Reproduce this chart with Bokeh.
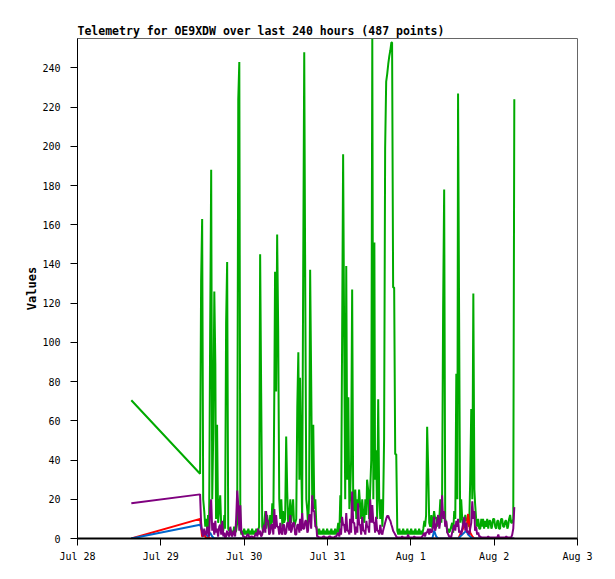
from bokeh.plotting import figure
from bokeh.models import Range1d, FixedTicker
from bokeh.embed import file_html
from bokeh.resources import INLINE

# hours since Jul 28 00:00 (dense sampling, green & purple channels)
TIME_FINE = [15.5,
    35.3, 35.6, 35.9, 36.2, 36.5, 36.8, 37.1, 37.4, 37.6, 37.9,
    38.2, 38.5, 38.8, 39.1, 39.4, 39.7, 39.9, 40.2, 40.5, 40.8,
    41.1, 41.4, 41.7, 42.0, 42.3, 42.5, 42.8, 43.1, 43.4, 43.7,
    44.0, 44.3, 44.6, 44.8, 45.1, 45.4, 45.7, 46.0, 46.3, 46.6,
    46.9, 47.2, 47.4, 47.7, 48.0, 48.3, 48.6, 48.9, 49.2, 49.5,
    49.7, 50.0, 50.3, 50.6, 50.9, 51.2, 51.5, 51.8, 52.0, 52.3,
    52.6, 52.9, 53.2, 53.5, 53.8, 54.1, 54.3, 54.6, 54.9, 55.2,
    55.5, 55.8, 56.1, 56.4, 56.7, 56.9, 57.2, 57.5, 57.8, 58.1,
    58.4, 58.7, 59.0, 59.2, 59.5, 59.8, 60.1, 60.4, 60.7, 61.0,
    61.3, 61.5, 61.8, 62.1, 62.4, 62.7, 63.0, 63.3, 63.6, 63.9,
    64.1, 64.4, 64.7, 65.0, 65.3, 65.6, 65.9, 66.2, 66.4, 66.7,
    67.0, 67.3, 67.6, 67.9, 68.2, 68.5, 68.8, 69.0, 69.3, 69.6,
    69.9, 70.2, 70.5, 70.8, 71.1, 71.3, 71.6, 71.9, 72.2, 72.5,
    72.8, 73.1, 73.4, 73.6, 73.9, 74.2, 74.5, 74.8, 75.1, 75.4,
    75.7, 75.9, 76.2, 76.5, 76.8, 77.1, 77.4, 77.7, 78.0, 78.3,
    78.5, 78.8, 79.1, 79.4, 79.7, 80.0, 80.3, 80.6, 80.8, 81.1,
    81.4, 81.7, 82.0, 82.3, 82.6, 82.9, 83.2, 83.4, 83.7, 84.0,
    84.3, 84.6, 84.9, 85.2, 85.5, 85.7, 86.0, 86.3, 86.6, 86.9,
    87.2, 87.5, 87.8, 88.0, 88.3, 88.6, 88.9, 89.2, 89.5, 89.8,
    90.1, 90.4, 90.6, 90.9, 91.2, 91.5, 91.8, 92.1, 92.4, 92.7,
    92.9, 93.2, 93.5, 93.8, 94.1, 94.4, 94.7, 95.0, 95.2, 95.5,
    95.8, 96.1, 96.4, 96.7, 97.0, 97.3, 97.6, 97.8, 98.1, 98.4,
    98.7, 99.0, 99.3, 99.6, 99.9, 100.1, 100.4, 100.7, 101.0, 101.3,
    101.6, 101.9, 102.2, 102.4, 102.7, 103.0, 103.3, 103.6, 103.9, 104.2,
    104.5, 104.8, 105.0, 105.3, 105.6, 105.9, 106.2, 106.5, 106.8, 107.0,
    107.3, 107.6, 107.9, 108.2, 108.5, 108.8, 109.1, 109.4, 109.6, 109.9,
    110.2, 110.5, 110.8, 111.1, 111.4, 111.7, 112.0, 112.2, 112.5, 112.8,
    113.1, 113.4, 113.7, 114.0, 114.3, 114.5, 114.8, 115.1, 115.4, 115.7,
    116.0, 116.3, 116.6, 116.8, 117.1, 117.4, 117.7, 118.0, 118.3, 118.6,
    118.9, 119.2, 119.4, 119.7, 120.0, 120.3, 120.6, 120.9, 121.2, 121.4,
    121.7, 122.0, 122.3, 122.6, 122.9, 123.2, 123.5, 123.8, 124.0, 124.3,
    124.6, 124.9, 125.2, 125.5, 125.8]

GREEN = [70.5,
    33, 131, 163, 20, 14, 6, 10, 4, 12, 5,
    104, 188, 20, 54, 126, 89, 10, 58, 8, 15,
    22, 6, 8, 4, 12, 5, 110, 141, 5, 4,
    5, 2, 4, 2, 6, 3, 4, 8, 224, 243,
    5, 2, 4, 2, 5, 2, 4, 2, 5, 2,
    4, 2, 5, 2, 4, 2, 5, 2, 4, 6,
    145, 74, 6, 3, 8, 14, 5, 12, 8, 4,
    12, 6, 18, 8, 79, 136, 75, 155, 106, 20,
    10, 20, 6, 14, 8, 10, 52, 24, 6, 12,
    20, 8, 14, 20, 6, 8, 10, 67, 95, 30,
    82, 42, 10, 136, 248, 124, 20, 14, 6, 20,
    137, 81, 20, 58, 15, 20, 6, 4, 2, 5,
    2, 4, 2, 5, 2, 4, 2, 5, 2, 4,
    2, 5, 2, 4, 2, 5, 2, 4, 8, 2,
    22, 8, 99, 196, 102, 20, 139, 30, 72, 15,
    20, 40, 127, 20, 14, 25, 10, 20, 14, 25,
    17, 10, 20, 12, 8, 20, 12, 30, 25, 10,
    25, 40, 255, 20, 151, 30, 45, 10, 71, 20,
    10, 20, 6, 14, 51, 199, 233, 237, 242, 246,
    249, 253, 253, 128, 128, 43, 43, 4, 2, 5,
    2, 4, 2, 5, 2, 4, 2, 5, 2, 4,
    2, 5, 2, 4, 2, 5, 2, 4, 2, 5,
    2, 4, 2, 5, 9, 6, 12, 57, 35, 8,
    6, 12, 5, 9, 14, 10, 11, 6, 12, 10,
    20, 8, 20, 117, 178, 10, 8, 3, 5, 3,
    4, 6, 8, 3, 14, 10, 84, 20, 227, 115,
    8, 20, 10, 6, 8, 12, 9, 10, 9, 6,
    30, 66, 20, 125, 25, 18, 10, 6, 10, 5,
    5, 10, 6, 10, 5, 9, 6, 10, 5, 9,
    9, 5, 6, 10, 10, 6, 5, 9, 9, 5,
    5, 10, 10, 6, 6, 9, 9, 5, 6, 10,
    12, 8, 8, 10, 224]

PURPLE = [18,
    22.5, 8, 3, 1, 5, 2, 2, 6, 4, 1,
    15, 20, 4, 8, 2, 9, 3, 5, 1, 6,
    7, 2, 9, 1, 3, 0.5, 1, 4, 2, 1,
    6, 2, 1, 3, 4, 1, 10, 24.5, 17, 4,
    17, 3, 3, 1, 1, 0.5, 0.5, 2, 2, 0.5,
    0.5, 1, 1, 0.5, 0.5, 2, 3, 1, 5, 2,
    4, 1, 2, 5, 7, 3, 14, 9, 9, 2,
    3, 7, 7, 2, 15, 5, 12, 6, 6, 2,
    8, 3, 2, 7, 7, 2, 3, 8, 8, 4,
    12, 3, 5, 8, 8, 2, 2, 7, 7, 3,
    10, 4, 13, 5, 5, 9, 9, 3, 4, 12,
    12, 5, 22, 14, 14, 6, 6, 1, 1, 0.5,
    0.5, 0.5, 0.5, 1, 1, 0.5, 0.5, 0.5, 0.5, 1,
    1, 0.5, 0.5, 0.5, 0.5, 1, 1, 2, 3, 1,
    5, 2, 11, 7, 7, 3, 13, 4, 4, 2,
    10, 3, 24, 8, 8, 2, 6, 3, 18, 7,
    7, 2, 11, 4, 4, 2, 9, 6, 6, 3,
    20, 8, 17, 8, 8, 3, 11, 4, 4, 2,
    7, 3, 2, 4, 6, 8, 10, 11.5, 11.5, 10,
    9, 7, 6, 4, 3, 2, 1, 0.5, 0.5, 0.5,
    0.5, 0.5, 1, 0.5, 0.5, 0.5, 0.5, 0.5, 2, 0.5,
    0.5, 0.5, 0.5, 0.5, 1, 0.5, 0.5, 0.5, 0.5, 0.5,
    0.5, 0.5, 1, 2, 3, 1, 3, 3, 5, 2,
    5, 3, 4, 6, 11, 4, 6, 9, 12, 5,
    9, 14, 22, 10, 14, 6, 9, 3, 2, 1,
    1, 0.5, 3, 5, 7, 4, 9, 6, 10, 3,
    4, 2, 5, 8, 11, 4, 8, 3, 4, 2,
    5, 8, 19, 10, 14, 4, 6, 2, 3, 1,
    1, 0.5, 0.5, 0.5, 0.5, 0.5, 0.5, 0.5, 1, 0.5,
    0.5, 0.5, 0.5, 0.5, 0.5, 0.5, 0.5, 0.5, 2, 0.5,
    0.5, 0.5, 0.5, 0.5, 0.5, 0.5, 1, 0.5, 0.5, 0.5,
    0.5, 0.5, 2, 5, 16]

# hours since Jul 28 00:00 (coarser sampling, red & blue channels)
TIME_COARSE = [15.5,
    35.3, 35.9, 36.5, 37.1, 37.6, 38.2, 38.8, 39.4, 39.9, 40.5,
    41.1, 41.7, 42.3, 42.8, 43.4, 44.0, 44.6, 45.1, 45.7, 46.3,
    46.9, 47.4, 48.0, 48.6, 49.2, 49.7, 50.3, 50.9, 51.5, 52.0,
    52.6, 53.2, 53.8, 54.4, 54.9, 55.5, 56.1, 56.7, 57.2, 57.8,
    58.4, 59.0, 59.5, 60.1, 60.7, 61.3, 61.8, 62.4, 63.0, 63.6,
    64.1, 64.7, 65.3, 65.9, 66.5, 67.0, 67.6, 68.2, 68.8, 69.3,
    69.9, 70.5, 71.1, 71.6, 72.2, 72.8, 73.4, 73.9, 74.5, 75.1,
    75.7, 76.2, 76.8, 77.4, 78.0, 78.5, 79.1, 79.7, 80.3, 80.9,
    81.4, 82.0, 82.6, 83.2, 83.7, 84.3, 84.9, 85.5, 86.0, 86.6,
    87.2, 87.8, 88.3, 88.9, 89.5, 90.1, 90.6, 91.2, 91.8, 92.4,
    92.9, 93.5, 94.1, 94.7, 95.3, 95.8, 96.4, 97.0, 97.6, 98.1,
    98.7, 99.3, 99.9, 100.4, 101.0, 101.6, 102.2, 102.7, 103.3, 103.9,
    104.5, 105.0, 105.6, 106.2, 106.8, 107.3, 107.9, 108.5, 109.1, 109.7,
    110.2, 110.8, 111.4, 112.0, 112.5, 113.1, 113.7, 114.3, 114.8, 115.4,
    116.0, 116.6, 117.1, 117.7, 118.3, 118.9, 119.4, 120.0, 120.6, 121.2,
    121.7, 122.3, 122.9, 123.5, 124.0, 124.6, 125.2, 125.8]

RED = [0,
    10, 1, 2, 0, 1, 0, 0, 0, 0, 0,
    0, 0, 0, 0, 0, 0, 0, 0, 0, 0,
    0, 0, 0, 0, 0, 0, 0, 0, 0, 0,
    0, 0, 0, 0, 0, 0, 0, 0, 0, 0,
    0, 0, 0, 0, 0, 0, 0, 0, 0, 0,
    0, 0, 0, 0, 0, 0, 0, 0, 0, 0,
    0, 0, 0, 0, 0, 0, 0, 0, 0, 0,
    0, 0, 0, 0, 0, 0, 0, 0, 0, 0,
    0, 0, 0, 0, 0, 0, 0, 0, 0, 0,
    0, 0, 0, 0, 0, 0, 0, 0, 0, 0,
    0, 0, 0, 0, 0, 0, 0, 0, 0, 0,
    0, 0, 0, 0, 0, 0, 0, 0, 0, 0,
    0, 0, 0, 0, 0, 0, 0, 0, 0, 0,
    2, 4, 7, 5, 12.5, 3, 1, 0, 0, 0,
    0, 0, 0, 0, 0, 0, 0, 0, 0, 0,
    0, 0, 0, 0, 0, 0, 0, 0]

BLUE = [0,
    7, 4, 3, 2, 1, 3, 1, 0, 0, 0,
    0, 0, 0, 0, 0, 0, 0, 0, 0, 0,
    0, 0, 0, 0, 0, 0, 0, 0, 0, 0,
    0, 0, 0, 0, 0, 0, 0, 0, 0, 0,
    0, 0, 0, 0, 0, 0, 0, 0, 0, 0,
    0, 0, 0, 0, 0, 0, 0, 0, 0, 0,
    0, 0, 0, 0, 0, 0, 0, 0, 0, 0,
    0, 0, 0, 0, 0, 0, 0, 0, 0, 0,
    0, 0, 0, 0, 0, 0, 0, 0, 0, 0,
    0, 0, 0, 0, 0, 0, 0, 0, 0, 0,
    0, 0, 0, 0, 0, 0, 0, 0, 0, 0,
    0, 0, 0, 0, 0, 0, 0, 4, 1, 0,
    0, 0, 0, 0, 0, 0, 0, 0, 0, 0,
    1, 2, 3, 4, 2, 1, 0, 0, 0, 0,
    0, 0, 0, 0, 0, 0, 0, 0, 0, 0,
    0, 0, 0, 0, 0, 0, 0, 0]

X_TICK_LABELS = ["Jul 28", "Jul 29", "Jul 30", "Jul 31", "Aug 1", "Aug 2", "Aug 3"]
Y_TICKS = [0, 20, 40, 60, 80, 100, 120, 140, 160, 180, 200, 220, 240]

MONO = "DejaVu Sans Mono"

p = figure(width=607, height=571, output_backend="svg", toolbar_location=None,
           x_range=Range1d(0, 144), y_range=Range1d(0, 255),
           min_border_left=77, min_border_right=30, min_border_top=38, min_border_bottom=33,
           title="Telemetry for OE9XDW over last 240 hours (487 points)")

p.line(TIME_FINE, GREEN, line_color="#00aa00", line_width=2)
p.line(TIME_COARSE, RED, line_color="#ff0000", line_width=2)
p.line(TIME_COARSE, BLUE, line_color="#0066cc", line_width=2)
p.line(TIME_FINE, PURPLE, line_color="#7f007f", line_width=2)

p.title.text_font = MONO
p.title.text_font_size = "11.5px"
p.title.text_font_style = "bold"
p.title.text_color = "black"
p.title.align = "left"
p.title.offset = 0
p.title.standoff = 2

p.xgrid.visible = False
p.ygrid.visible = False
p.outline_line_color = "#666666"
p.outline_line_width = 1
p.background_fill_color = "white"
p.border_fill_color = "white"

xt = [24 * i for i in range(len(X_TICK_LABELS))]
p.xaxis.ticker = FixedTicker(ticks=xt)
p.xaxis.major_label_overrides = {t: lab for t, lab in zip(xt, X_TICK_LABELS)}
p.yaxis.ticker = FixedTicker(ticks=Y_TICKS)

for ax in (p.xaxis[0], p.yaxis[0]):
    ax.axis_line_color = "black"
    ax.major_tick_line_color = "black"
    ax.major_tick_in = 0
    ax.major_tick_out = 7
    ax.minor_tick_line_color = None
    ax.major_label_text_font = MONO
    ax.major_label_text_font_size = "10px"
    ax.major_label_text_color = "black"

p.xaxis.axis_line_width = 2
p.xaxis.major_label_standoff = 5
p.yaxis.major_label_standoff = 10
p.yaxis.axis_label = "Values"
p.yaxis.axis_label_text_font = MONO
p.yaxis.axis_label_text_font_size = "12px"
p.yaxis.axis_label_text_font_style = "bold"
p.yaxis.axis_label_text_color = "black"
p.yaxis.axis_label_standoff = 0

open("out.html", "w").write(file_html(p, INLINE))
